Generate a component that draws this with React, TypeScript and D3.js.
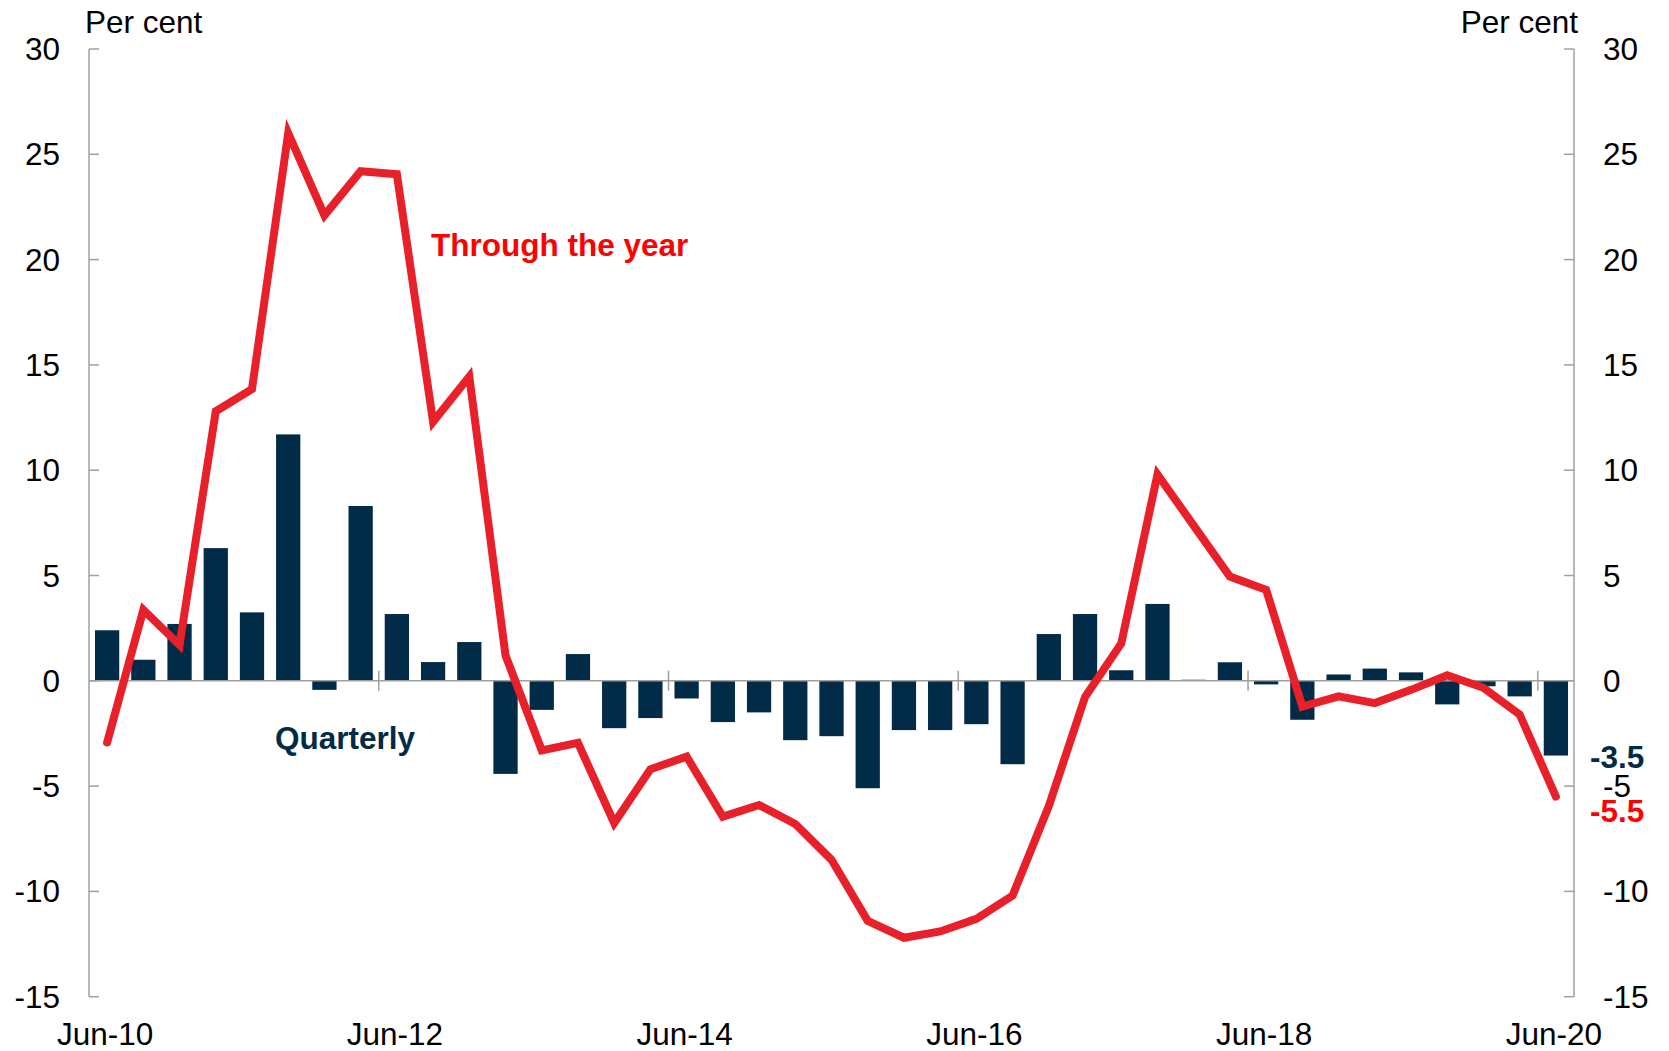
import React from "react";
import * as d3 from "d3";

const quarters = [
  "Jun-10", "Sep-10", "Dec-10", "Mar-11", "Jun-11", "Sep-11", "Dec-11", "Mar-12",
  "Jun-12", "Sep-12", "Dec-12", "Mar-13", "Jun-13", "Sep-13", "Dec-13", "Mar-14",
  "Jun-14", "Sep-14", "Dec-14", "Mar-15", "Jun-15", "Sep-15", "Dec-15", "Mar-16",
  "Jun-16", "Sep-16", "Dec-16", "Mar-17", "Jun-17", "Sep-17", "Dec-17", "Mar-18",
  "Jun-18", "Sep-18", "Dec-18", "Mar-19", "Jun-19", "Sep-19", "Dec-19", "Mar-20",
  "Jun-20",
];

const quarterly = [
  2.4, 1.0, 2.7, 6.3, 3.25, 11.7, -0.43, 8.3,
  3.17, 0.89, 1.84, -4.42, -1.38, 1.27, -2.25, -1.77,
  -0.84, -1.96, -1.5, -2.82, -2.63, -5.1, -2.34, -2.34,
  -2.06, -3.96, 2.22, 3.17, 0.5, 3.65, 0.05, 0.88,
  -0.17, -1.85, 0.3, 0.58, 0.4, -1.12, -0.26, -0.74,
  -3.55,
];

const throughYear = [
  -2.93, 3.37, 1.7, 12.8, 13.85, 26.0, 22.1, 24.2,
  24.05, 12.3, 14.45, 1.2, -3.3, -2.95, -6.75, -4.2,
  -3.6, -6.45, -5.9, -6.8, -8.5, -11.4, -12.2, -11.9,
  -11.3, -10.2, -5.95, -0.77, 1.77, 9.8, 7.37, 4.95,
  4.32, -1.22, -0.74, -1.06, -0.43, 0.26, -0.33, -1.6,
  -5.5,
];

const yTicks = [-15, -10, -5, 0, 5, 10, 15, 20, 25, 30];
const xTickLabels = ["Jun-10", "Jun-12", "Jun-14", "Jun-16", "Jun-18", "Jun-20"];
const dividerQuarters = ["Jun-12", "Jun-14", "Jun-16", "Jun-18", "Jun-20"];

const W = 1669;
const H = 1051;
const LEFT = 89;
const RIGHT = 1574;
const TOP = 49;
const BOTTOM = 996.7;

const NAVY = "#022b47";
const RED = "#e8202a";
const GRID = "#a0a0a0";
const FONT = "'Liberation Sans', Arial, Helvetica, sans-serif";
const FS = 31.5;

export default function App() {
  const x = d3.scaleBand<string>().domain(quarters).range([LEFT, RIGHT]).paddingInner(0.33).paddingOuter(0.165);
  const y = d3.scaleLinear().domain([-15, 30]).range([BOTTOM, TOP]);
  const cx = (q: string) => (x(q) as number) + x.bandwidth() / 2;
  const step = x.step();

  const line = d3
    .line<number>()
    .x((_, i) => cx(quarters[i]))
    .y((d) => y(d));

  const y0 = y(0);

  return (
    <svg
      width={W}
      height={H}
      style={{ position: "absolute", left: 0, top: 0, display: "block", background: "#fff" }}
      fontFamily={FONT}
    >
      {/* axes */}
      <line x1={LEFT} x2={LEFT} y1={y(30)} y2={y(-15)} stroke={GRID} strokeWidth={1.5} />
      <line x1={RIGHT} x2={RIGHT} y1={y(30)} y2={y(-15)} stroke={GRID} strokeWidth={1.5} />
      {yTicks.map((t) => (
        <g key={t}>
          <line x1={LEFT} x2={LEFT + 10} y1={y(t)} y2={y(t)} stroke={GRID} strokeWidth={1.5} />
          <line x1={RIGHT - 10} x2={RIGHT} y1={y(t)} y2={y(t)} stroke={GRID} strokeWidth={1.5} />
          <text x={60} y={y(t) + 11} fontSize={FS} textAnchor="end" fill="#000">
            {t}
          </text>
          <text x={1603} y={y(t) + 11} fontSize={FS} textAnchor="start" fill="#000">
            {t}
          </text>
        </g>
      ))}

      {/* bars */}
      {quarterly.map((v, i) => (
        <rect
          key={quarters[i]}
          x={x(quarters[i])}
          width={x.bandwidth()}
          y={Math.min(y(v), y0)}
          height={Math.max(Math.abs(y(v) - y0), 0.8)}
          fill={NAVY}
        />
      ))}

      {/* zero line and dividers */}
      <line x1={LEFT} x2={RIGHT} y1={y0} y2={y0} stroke={GRID} strokeWidth={1.5} />
      {dividerQuarters.map((q) => (
        <line
          key={q}
          x1={(x(q) as number) - (step - x.bandwidth()) / 2}
          x2={(x(q) as number) - (step - x.bandwidth()) / 2}
          y1={y0 - 10}
          y2={y0 + 10}
          stroke={GRID}
          strokeWidth={1.5}
        />
      ))}

      {/* through the year line */}
      <path
        d={line(throughYear) || ""}
        fill="none"
        stroke={RED}
        strokeWidth={8}
        strokeLinejoin="miter"
        strokeLinecap="round"
      />

      {/* x labels */}
      {xTickLabels.map((q) => (
        <text key={q} x={cx(q) - 2} y={1045} fontSize={FS} textAnchor="middle" fill="#000">
          {q}
        </text>
      ))}

      {/* units */}
      <text x={85} y={33} fontSize={FS} textAnchor="start" fill="#000">
        Per cent
      </text>
      <text x={1578} y={33} fontSize={FS} textAnchor="end" fill="#000">
        Per cent
      </text>

      {/* series labels */}
      <text x={431} y={256} fontSize={FS} fontWeight="bold" fill="#ff0000">
        Through the year
      </text>
      <text x={275} y={749} fontSize={FS} fontWeight="bold" fill={NAVY}>
        Quarterly
      </text>

      {/* latest value labels */}
      <text x={1590} y={y(quarterly[quarterly.length - 1]) + 12} fontSize={FS} fontWeight="bold" fill={NAVY}>
        {"-3.5"}
      </text>
      <text x={1590} y={y(throughYear[throughYear.length - 1]) + 25} fontSize={FS} fontWeight="bold" fill="#ff0000">
        {"-5.5"}
      </text>
    </svg>
  );
}
